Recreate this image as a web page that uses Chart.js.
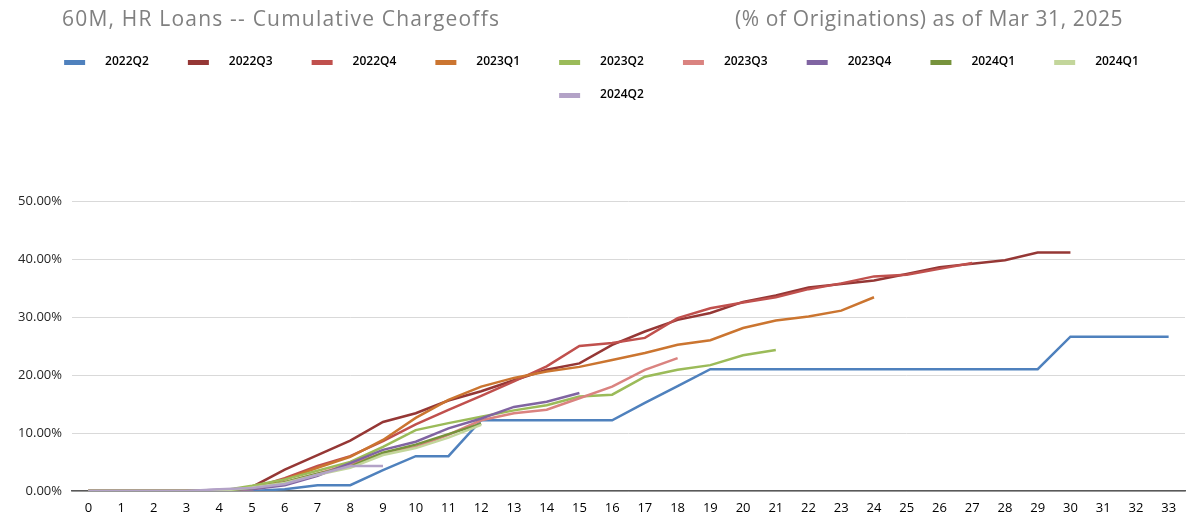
<!DOCTYPE html>
<html>
<head>
<meta charset="utf-8">
<title>60M, HR Loans -- Cumulative Chargeoffs</title>
<script src="https://cdn.jsdelivr.net/npm/chart.js@4.4.1/dist/chart.umd.min.js"></script>
<style>
  html, body { margin: 0; padding: 0; background: #fff; }
  .wrap { position: relative; width: 1188px; height: 518px; }
  .ttl { position: absolute; top: 4px; font-family: 'Open Sans', sans-serif; font-size: 21px; color: #808080; white-space: nowrap; }
  #t1 { left: 62px; letter-spacing: 1.2px; }
  #t2 { left: 735px; letter-spacing: 0.6px; }
  canvas { position: absolute; left: 0; top: 0; }
</style>
</head>
<body>
<div class="wrap">
  <canvas id="chart" width="1188" height="518"></canvas>
  <div class="ttl" id="t1">60M, HR Loans -- Cumulative Chargeoffs</div>
  <div class="ttl" id="t2">(% of Originations) as of Mar 31, 2025</div>
</div>
<script>
'use strict';

/* ---- data (cumulative chargeoffs, % of originations) ---- */
const months = [0, 1, 2, 3, 4, 5, 6, 7, 8, 9, 10, 11, 12, 13, 14, 15, 16,
  17, 18, 19, 20, 21, 22, 23, 24, 25, 26, 27, 28, 29, 30, 31, 32, 33];
const yTicks = [0, 10, 20, 30, 40, 50];
const vintages = ['2022Q2', '2022Q3', '2022Q4', '2023Q1', '2023Q2', '2023Q3',
  '2023Q4', '2024Q1', '2024Q1', '2024Q2'];

const v2022Q2 = [0, 0, 0, 0, 0, 0, 0.3, 1.0, 1.0, 3.6, 6.0, 6.0, 12.2, 12.2, 12.2, 12.2, 12.2,
  15.2, 18.1, 21.0, 21.0, 21.0, 21.0, 21.0, 21.0, 21.0, 21.0, 21.0, 21.0, 21.0, 26.6, 26.6, 26.6, 26.6];
const v2022Q3 = [0, 0, 0, 0, 0, 0.7, 3.7, 6.2, 8.7, 11.9, 13.4, 15.6, 17.2, 19.1, 20.9, 22.0, 25.2,
  27.5, 29.5, 30.7, 32.6, 33.7, 35.1, 35.7, 36.3, 37.4, 38.6, 39.2, 39.8, 41.1, 41.1];
const v2022Q4 = [0, 0, 0, 0, 0, 0.5, 2.2, 4.3, 6.0, 8.6, 11.5, 14.0, 16.4, 18.9, 21.5, 25.0, 25.5,
  26.4, 29.8, 31.5, 32.5, 33.4, 34.8, 35.8, 37.0, 37.3, 38.3, 39.3];
const v2023Q1 = [0, 0, 0, 0, 0, 0.5, 2.0, 4.0, 5.9, 8.8, 12.6, 15.7, 18.0, 19.5, 20.6, 21.4, 22.6,
  23.8, 25.2, 26.0, 28.1, 29.4, 30.1, 31.1, 33.4];
const v2023Q2 = [0, 0, 0, 0, 0, 0.9, 2.0, 3.5, 5.0, 7.6, 10.5, 11.7, 12.8, 13.9, 14.8, 16.3, 16.6,
  19.7, 20.9, 21.7, 23.4, 24.3];
const v2023Q3 = [0, 0, 0, 0, 0, 0.3, 1.5, 3.0, 4.6, 6.5, 7.6, 9.7, 12.2, 13.4, 14.0, 16.0, 18.0,
  20.9, 22.9];
const v2023Q4 = [0, 0, 0, 0, 0.2, 0.3, 1.0, 2.6, 4.8, 7.1, 8.5, 10.8, 12.5, 14.5, 15.4, 16.9];
const v2024Q1a = [0, 0, 0, 0, 0, 0.5, 1.5, 3.0, 4.2, 6.6, 8.0, 9.8, 11.6];
const v2024Q1b = [0, 0, 0, 0, 0, 0.6, 1.4, 2.8, 4.0, 6.2, 7.4, 9.2, 11.4];
const v2024Q2 = [0, 0, 0, 0, 0.3, 0.5, 1.2, 2.8, 4.3, 4.3];

const series = [v2022Q2, v2022Q3, v2022Q4, v2023Q1, v2023Q2, v2023Q3, v2023Q4, v2024Q1a, v2024Q1b, v2024Q2];
const colors = ['#4F81BD', '#953735', '#C0504D', '#CB7530', '#9BBB59', '#DA8380',
  '#8064A2', '#77933C', '#C3D69B', '#B3A2C7'];

const FONT = "'Open Sans', sans-serif";

// legend swatch: short thick bar inside a wider transparent box (spacing like Excel)
function swatch(color) {
  const c = document.createElement('canvas');
  c.width = 53; c.height = 5;
  const g = c.getContext('2d');
  g.fillStyle = color;
  g.fillRect(18, 0, 21, 5);
  return c;
}

const legendGap = {
  id: 'legendGap',
  beforeInit(chart) {
    const fit = chart.legend.fit;
    chart.legend.fit = function () {
      fit.bind(chart.legend)();
      this.height += 90;
    };
  }
};

new Chart(document.getElementById('chart'), {
  type: 'line',
  data: {
    labels: months,
    datasets: series.map((d, i) => ({
      label: vintages[i],
      data: d,
      borderColor: colors[i],
      backgroundColor: colors[i],
      borderWidth: 2.5,
      pointRadius: 0,
      tension: 0,
      fill: false,
      order: series.length - i
    }))
  },
  options: {
    responsive: false,
    animation: false,
    layout: { padding: { top: 35, left: 0, right: 3, bottom: 0 } },
    plugins: {
      legend: {
        position: 'top',
        labels: {
          usePointStyle: true,
          pointStyleWidth: 53,
          padding: 21,
          color: '#000',
          font: { family: FONT, size: 12, weight: '600' },
          sort: (a, b) => a.datasetIndex - b.datasetIndex,
          generateLabels(chart) {
            const items = Chart.defaults.plugins.legend.labels.generateLabels(chart);
            items.forEach(it => { it.pointStyle = swatch(it.strokeStyle); });
            return items;
          }
        }
      },
      tooltip: { enabled: false }
    },
    scales: {
      x: {
        offset: true,
        grid: { display: false, drawTicks: false },
        border: { display: true, color: '#595959', width: 1.5 },
        ticks: { padding: 9, autoSkip: false, maxRotation: 0, color: '#000', font: { family: FONT, size: 13 } },
        afterFit(s) { s.height = 27; }
      },
      y: {
        min: 0,
        max: 50,
        afterBuildTicks(s) { s.ticks = yTicks.map(v => ({ value: v })); },
        grid: { color: '#d9d9d9', drawTicks: false },
        border: { display: false },
        ticks: { padding: 10, color: '#262626', font: { family: FONT, size: 13 }, callback: v => v.toFixed(2) + '%' },
        afterFit(s) { s.width = 72; }
      }
    }
  },
  plugins: [legendGap]
});
</script>
</body>
</html>
